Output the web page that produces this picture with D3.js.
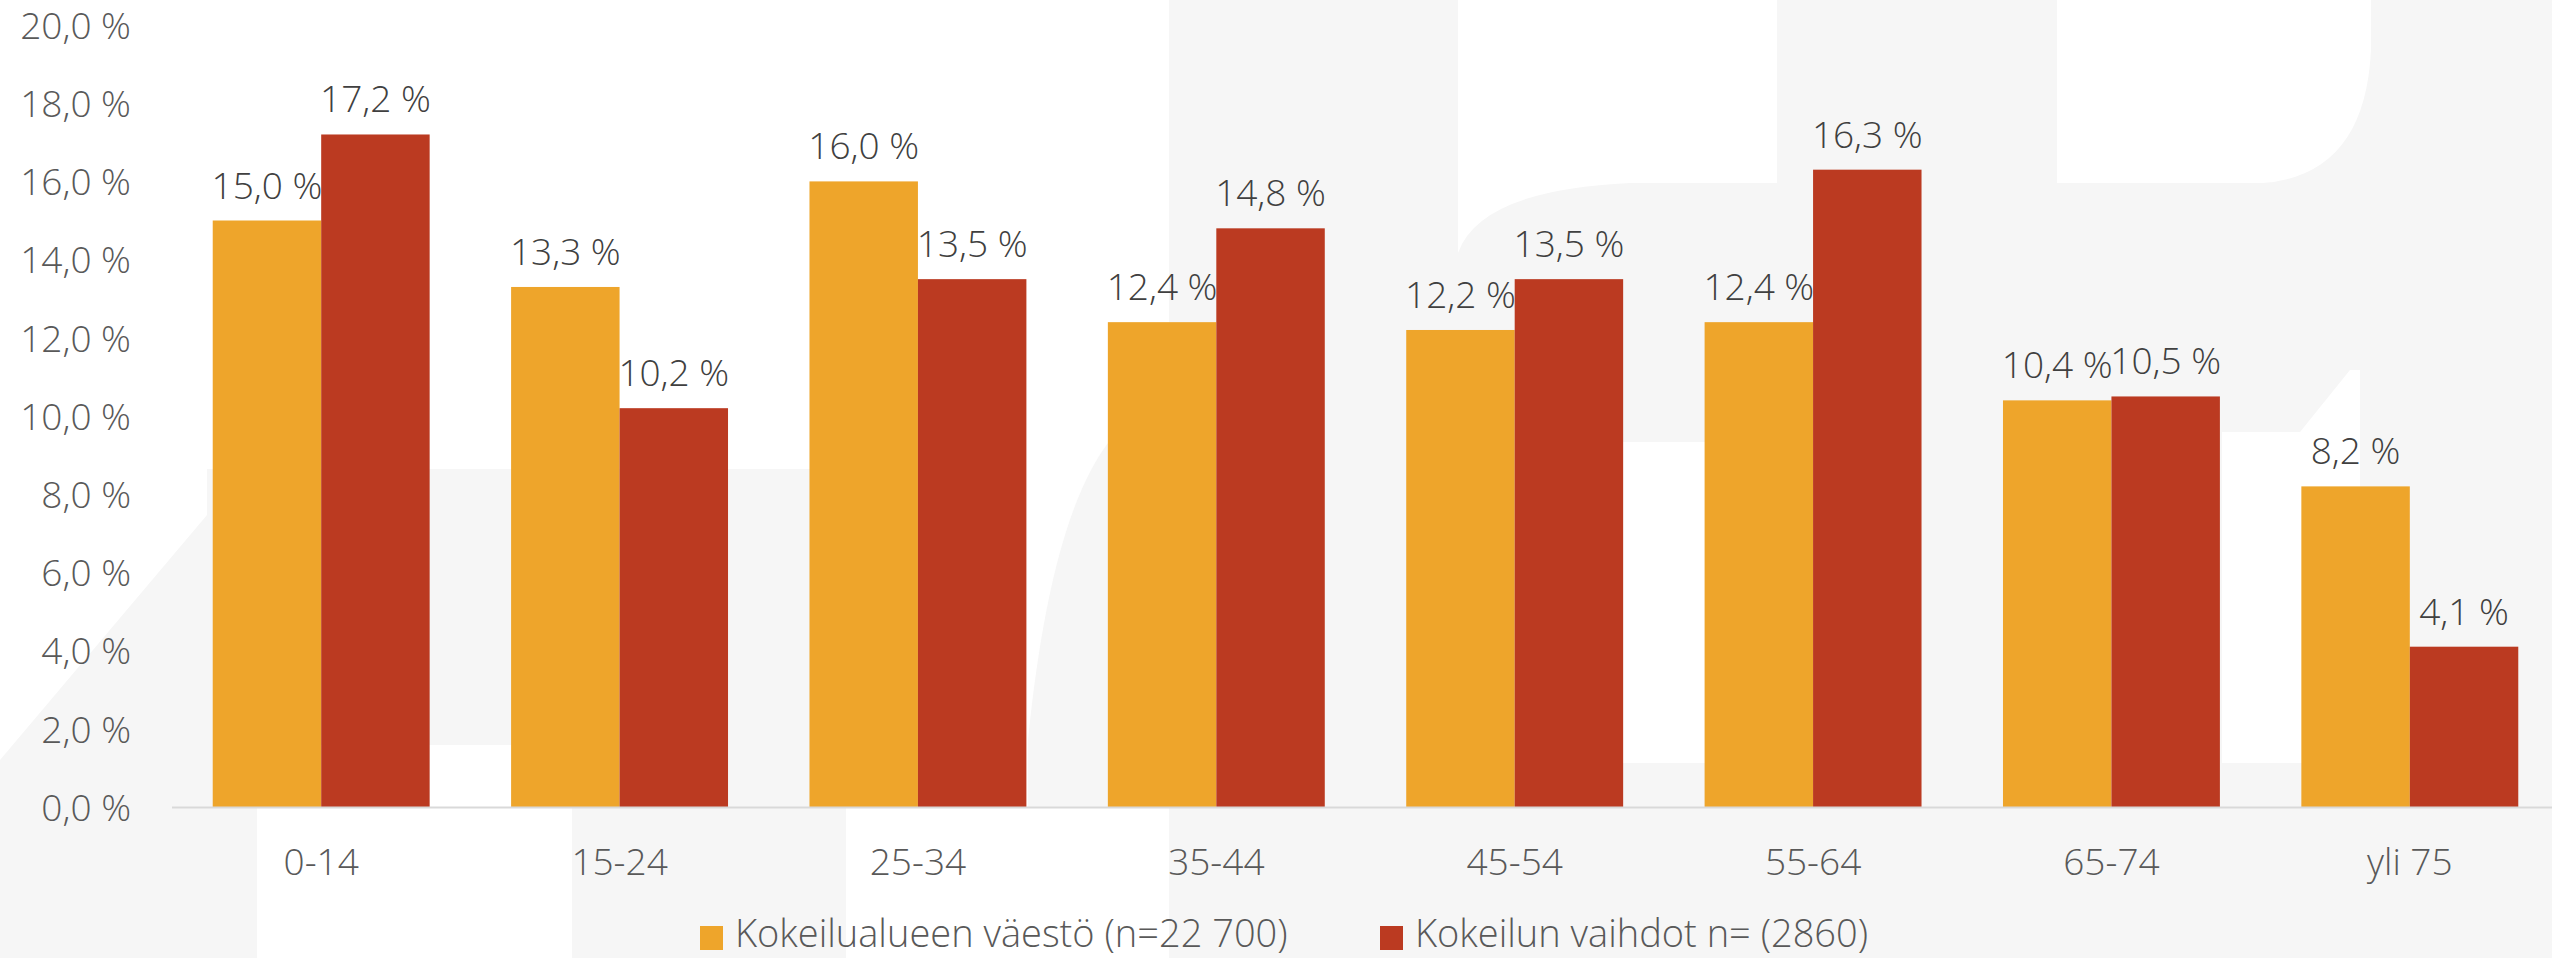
<!DOCTYPE html>
<html>
<head>
<meta charset="utf-8">
<script src="https://cdn.jsdelivr.net/npm/d3@7"></script>
<style>
  html, body { margin: 0; padding: 0; background: #ffffff; }
  svg text { font-family: 'Open Sans', 'Noto Sans', sans-serif; font-weight: 300; }
</style>
</head>
<body>
<svg id="chart" width="2552" height="958"></svg>
<script>
// data
var categories = ['0-14', '15-24', '25-34', '35-44', '45-54', '55-64', '65-74', 'yli 75'];
var series = ['Kokeilualueen väestö (n=22 700)', 'Kokeilun vaihdot n= (2860)'];
var vaesto = [15.0, 13.3, 16.0, 12.4, 12.2, 12.4, 10.4, 8.2];
var vaihdot = [17.2, 10.2, 13.5, 14.8, 13.5, 16.3, 10.5, 4.1];
var yTicks = [0, 2, 4, 6, 8, 10, 12, 14, 16, 18, 20];
var colors = ['#EEA52B', '#BB3A21'];

var W = 2552, H = 958;
var svg = d3.select('#chart');

// faint watermark in the background
var wm = svg.append('g').attr('class', 'watermark');
var grey = '#f6f6f6';
wm.append('path').attr('fill', grey)
  .attr('d', 'M0,760 L207,515 L207,469 L1026,469 L1026,745 L846,745 L846,958 L572,958 L572,745 L257,745 L257,958 L0,958 Z');
wm.append('path').attr('fill', grey)
  .attr('d', 'M1028,807 L1028,740 Q1050,520 1108,443 L1169,443 L1169,807 Z');
wm.append('rect').attr('fill', grey).attr('x', 1169).attr('y', 0).attr('width', W - 1169).attr('height', H);
// holes
wm.append('path').attr('fill', '#fff')
  .attr('d', 'M1458,0 L1777,0 L1777,183 L1630,183 Q1480,190 1458,253 Z');
wm.append('path').attr('fill', '#fff')
  .attr('d', 'M2057,0 L2371,0 L2371,50 Q2365,175 2263,183 L2057,183 Z');
wm.append('rect').attr('fill', '#fff').attr('x', 1600).attr('y', 442).attr('width', 130).attr('height', 321);
wm.append('path').attr('fill', '#fff')
  .attr('d', 'M2222,432 L2300,432 L2350,370 L2360,370 L2360,763 L2222,763 Z');

var y = d3.scaleLinear().domain([0, 20]).range([807, 25]);

var x0 = d3.scaleBand()
  .domain(categories)
  .range([172, 2559])
  .paddingInner(0.273)
  .paddingOuter(0.1365);

var x1 = d3.scaleBand()
  .domain([0, 1])
  .range([0, x0.bandwidth()]);

function fmt(v) { return v.toFixed(1).replace('.', ',') + ' %'; }

// y axis labels
var yAxis = svg.append('g')
  .attr('transform', 'translate(131,0)')
  .call(d3.axisLeft(y).tickValues(yTicks).tickSize(0).tickPadding(0).tickFormat(fmt));
yAxis.select('.domain').remove();
yAxis.selectAll('text')
  .attr('font-size', 37)
  .attr('fill', '#595959')
  .attr('dy', '0.36em');

// bars
var rows = categories.map(function (c, i) { return { cat: c, vals: [vaesto[i], vaihdot[i]] }; });

var groups = svg.append('g')
  .selectAll('g')
  .data(rows)
  .enter()
  .append('g')
  .attr('transform', function (d) { return 'translate(' + x0(d.cat) + ',0)'; });

groups.selectAll('rect')
  .data(function (d) { return d.vals.map(function (v, k) { return { k: k, v: v }; }); })
  .enter()
  .append('rect')
  .attr('x', function (d) { return x1(d.k); })
  .attr('y', function (d) { return y(d.v); })
  .attr('width', x1.bandwidth())
  .attr('height', function (d) { return y(0) - y(d.v); })
  .attr('fill', function (d) { return colors[d.k]; });

groups.selectAll('text.val')
  .data(function (d) { return d.vals.map(function (v, k) { return { k: k, v: v }; }); })
  .enter()
  .append('text')
  .attr('class', 'val')
  .attr('x', function (d) { return x1(d.k) + x1.bandwidth() / 2; })
  .attr('y', function (d) { return y(d.v) - 22; })
  .attr('text-anchor', 'middle')
  .attr('font-size', 37)
  .attr('fill', '#404040')
  .text(function (d) { return fmt(d.v); });

// x axis
var xAxis = svg.append('g')
  .attr('transform', 'translate(0,807)')
  .call(d3.axisBottom(x0).tickSize(0));
xAxis.select('.domain').remove();
xAxis.selectAll('text')
  .attr('font-size', 37)
  .attr('fill', '#595959')
  .attr('y', 68)
  .attr('dy', 0);

svg.append('line')
  .attr('x1', 172).attr('x2', W)
  .attr('y1', 807.5).attr('y2', 807.5)
  .attr('stroke', '#d9d9d9')
  .attr('stroke-width', 2);

// legend
var legendX = [700, 1380];
var leg = svg.append('g')
  .selectAll('g')
  .data(series)
  .enter()
  .append('g')
  .attr('transform', function (d, i) { return 'translate(' + legendX[i] + ',926)'; });
leg.append('rect')
  .attr('width', 23).attr('height', 24)
  .attr('fill', function (d, i) { return colors[i]; });
leg.append('text')
  .attr('x', 35)
  .attr('y', 21)
  .attr('font-size', 38)
  .attr('fill', '#595959')
  .text(function (d) { return d; });
</script>
</body>
</html>
